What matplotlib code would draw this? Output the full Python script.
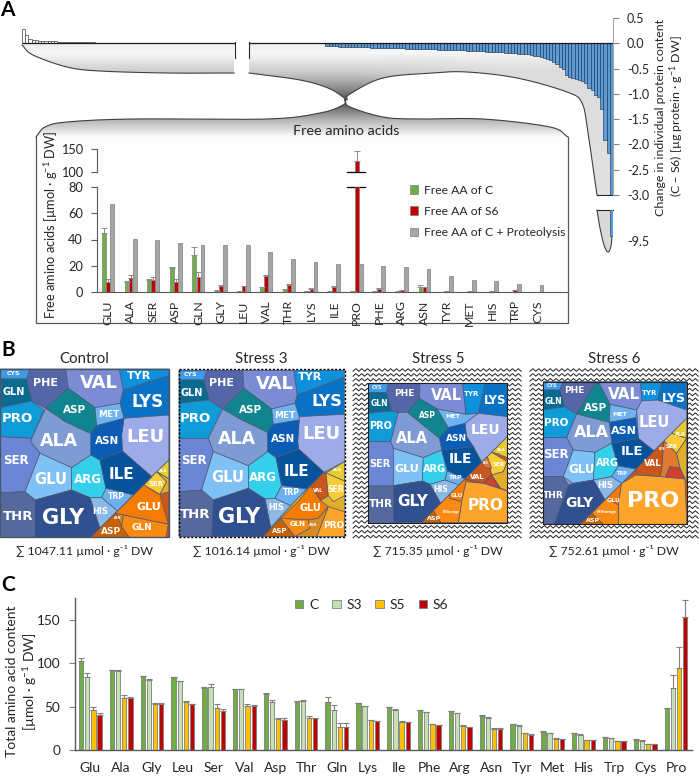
import numpy as np
import matplotlib
matplotlib.use("Agg")
import matplotlib.pyplot as plt
from matplotlib.patches import Polygon, Rectangle

plt.rcParams['font.family'] = ['Lato', 'DejaVu Sans']
plt.rcParams['mathtext.default'] = 'regular'

# panel A, change in protein content
protein_up = [0.28, 0.16, 0.08, 0.07, 0.06, 0.05, 0.05, 0.04, 0.04, 0.04, 0.04, 0.03, 0.03, 0.03, 0.03, 0.03,
	0.02, 0.02, 0.02, 0.02, 0.02, 0.02, 0.02, 0.01, 0.01, 0.01, 0.01, 0.01, 0.01, 0.01]
protein_down = [-.06, -.06, -.06, -.06, -.07, -.07, -.07, -.07, -.07, -.08, -.08, -.08, -.08, -.08, -.09, -.09,
	-.09, -.09, -.09, -.10, -.10, -.10, -.10, -.10, -.10, -.11, -.11, -.11, -.11, -.11, -.12, -.12, -.12, -.12,
	-.12, -.13, -.13, -.13, -.13, -.13, -.14, -.14, -.14, -.14, -.15, -.15, -.15, -.15, -.16, -.16, -.17, -.17,
	-.17, -.18, -.18, -.18, -.19, -.19, -.20, -.20, -.21, -.21, -.22, -.22, -.24, -.25, -.26, -.27, -.29, -.31,
	-.33, -.37, -.41, -.47, -.50, -.62, -.66, -.69, -.71, -.73, -.74, -.78, -.88, -.92, -1.03, -1.06, -1.29,
	-1.91, -2.17, -9.38]
a_ticks_top = [0.5, 0.0, -0.5, -1.0, -1.5, -2.0, -2.5, -3.0]

# panel A inset, free amino acids
free_names = ['GLU', 'ALA', 'SER', 'ASP', 'GLN', 'GLY', 'LEU', 'VAL', 'THR', 'LYS', 'ILE', 'PRO', 'PHE', 'ARG',
	'ASN', 'TYR', 'MET', 'HIS', 'TRP', 'CYS']
free_c = [45, 7.5, 9.5, 18, 28, 1, 0.5, 3.5, 2, 0.5, 0.3, 0.7, 0.3, 0.3, 4, 0.2, 0.2, 0.1, 0.2, 0.1]
free_c_err = [4, 1, 0.7, 1.2, 6, 0.2, 0.1, 0.5, 0.2, 0.1, 0.1, 0.1, 0.1, 0.1, 1.3, 0.1, 0.1, 0.1, 0.1, 0.1]
free_s6 = [8, 10.5, 9, 7.5, 11.5, 4.5, 4.5, 12, 5, 2.5, 4, 124.5, 2.5, 1.5, 3.6, 1, 0.8, 0.3, 1.5, 0.2]
free_s6_err = [2, 2.5, 2.5, 2.5, 4, 0.8, 0.3, 1.2, 0.8, 0.3, 0.3, 21, 0.3, 0.2, 0.3, 0.1, 0.1, 0.1, 0.2, 0.1]
free_prot = [67, 40.5, 39.5, 37, 36, 35.5, 35.5, 30.5, 25.5, 23, 21.5, 21, 19.5, 19, 17.3, 12.2, 9.1, 8.1, 6.1, 5.1]

# panel C, total amino acids
total_names = ['Glu', 'Ala', 'Gly', 'Leu', 'Ser', 'Val', 'Asp', 'Thr', 'Gln', 'Lys', 'Ile', 'Phe', 'Arg', 'Asn',
	'Tyr', 'Met', 'His', 'Trp', 'Cys', 'Pro']
total_c = [102, 92, 85, 84, 71.5, 70.5, 64, 56, 55, 53.8, 49, 45.8, 44.6, 39, 29.6, 21, 19, 14.6, 12, 48]
total_s3 = [84, 91, 81, 79.5, 73, 70.5, 55.5, 56, 46.5, 50.4, 46.5, 43.5, 42.3, 37.3, 28, 19.6, 17.7, 13.8, 10.8, 71]
total_s5 = [46.5, 60, 53.5, 55, 48.5, 51, 35.5, 37, 27, 34, 32.7, 30, 28, 24.6, 19, 13, 11.5, 10, 6.5, 94]
total_s6 = [40.5, 59.5, 53.5, 53, 45, 50.5, 34.5, 37, 27, 33, 32.3, 29, 26.5, 24, 17.7, 12.3, 11, 10, 6.5, 152.7]
total_c_err = [4, 0.5, 0.3, 0.3, 0.5, 0.3, 1.5, 0.5, 6, 0.5, 0.5, 0.5, 0.5, 1, 0.5, 0.5, 0.3, 0.3, 0.3, 0.5]
total_s3_err = [4.5, 1.5, 0.3, 0.3, 2.5, 0.3, 2, 1.5, 5.5, 0.5, 0.5, 0.5, 0.5, 1, 0.5, 0.5, 0.3, 0.5, 0.3, 15]
total_s5_err = [3.5, 3, 0.3, 1, 4, 1.5, 1, 2, 4, 0.5, 0.5, 0.5, 0.5, 1, 0.3, 0.5, 0.3, 0.3, 0.3, 25]
total_s6_err = [2, 2, 0.3, 0.5, 2.5, 1, 2, 0.3, 4, 0.5, 0.5, 0.3, 0.3, 1, 0.3, 0.3, 0.3, 0.3, 0.3, 20]

# panel B, captions
panel_titles = ['Control', 'Stress 3', 'Stress 5', 'Stress 6']
panel_sums = ['1047.11', '1016.14', '715.35', '752.61']

CELL_COLORS = {
	'CYS': '#3d9be9', 'GLN': '#0b6a8f', 'PRO': '#0f9bd7', 'PHE': '#5566a8', 'VAL': '#7b8bd4', 'TYR': '#0e90dc',
	'LYS': '#0a72c5', 'ASP': '#10848f', 'MET': '#6fb2f0', 'LEU': '#9dabe8', 'ASN': '#0b5cb5', 'ALA': '#7f9bd3',
	'SER': '#6c86d6', 'GLU': '#80c1f5', 'ARG': '#35cfeb', 'ILE': '#07539b', 'TRP': '#6cb0f2', 'HIS': '#8cb8e6',
	'GLY': '#30508f', 'THR': '#55699e', 'oGLU': '#f57c00', 'oASP': '#c96000', 'oGLN': '#fb8a12', 'oASN': '#d98a20',
	'oPRO': '#fda52b', 'oALA': '#e8cb2e', 'oSER': '#fbcb35', 'oGOLD': '#e0ae28', 'oVAL': '#c9561d', 'oRED': '#d23f2c',
	'oMISC': '#e07a30',
}

# treemap cells: colour key, label, font size, label position, outline (3x crop coordinates)
control_cells = [
	('oVAL', '', 2, 0, 0, [(507, 375), (507, 607), (272, 607), (300, 580), (352, 528), (400, 480), (455, 425)]),
	('CYS', 'CYS', 4.5, 40, 116, [(0, 102), (90, 102), (80, 132), (0, 132)]),
	('GLN', 'GLN', 7, 41, 172, [(0, 132), (80, 132), (95, 198), (0, 218)]),
	('PRO', 'PRO', 9.5, 53, 250, [(0, 218), (95, 198), (132, 225), (95, 310), (0, 305)]),
	('PHE', 'PHE', 8, 135, 143, [(90, 102), (197, 102), (205, 160), (137, 220), (95, 198), (80, 132)]),
	('VAL', 'VAL', 13, 298, 145, [(197, 102), (358, 102), (370, 165), (360, 205), (285, 218), (205, 160)]),
	('TYR', 'TYR', 8, 416, 124, [(358, 102), (507, 102), (507, 122), (370, 165)]),
	('LYS', 'LYS', 12, 443, 200, [(370, 165), (507, 122), (507, 240), (372, 250), (360, 205)]),
	('ASP', 'ASP', 7.5, 223, 224, [(205, 160), (285, 218), (290, 272), (272, 296), (195, 260), (137, 220)]),
	('MET', 'MET', 6.5, 326, 239, [(285, 218), (360, 205), (372, 250), (290, 272)]),
	('LEU', 'LEU', 13, 436, 306, [(372, 250), (507, 240), (507, 375), (455, 425), (367, 348), (365, 300)]),
	('ASN', 'ASN', 7.5, 321, 317, [(290, 272), (372, 250), (365, 300), (367, 348), (300, 376), (272, 360), (272, 296)]),
	('ALA', 'ALA', 12.5, 178, 317, [(137, 220), (195, 260), (272, 296), (272, 360), (215, 398), (120, 355), (92, 320), (95, 310)]),
	('SER', 'SER', 8.5, 48, 378, [(0, 305), (95, 310), (92, 320), (120, 355), (75, 470), (0, 473)]),
	('GLU', 'GLU', 10.5, 153, 433, [(120, 355), (215, 398), (215, 465), (105, 495), (75, 470)]),
	('ARG', 'ARG', 8.5, 263, 433, [(215, 398), (272, 360), (300, 376), (318, 460), (305, 488), (270, 488), (215, 465)]),
	('ILE', 'ILE', 11, 365, 419, [(300, 376), (367, 348), (455, 425), (400, 480), (318, 460)]),
	('TRP', 'TRP', 5.5, 350, 485, [(318, 460), (400, 480), (352, 528), (305, 488)]),
	('HIS', 'HIS', 6, 302, 531, [(270, 488), (305, 488), (352, 528), (300, 580)]),
	('GLY', 'GLY', 15, 190, 549, [(105, 495), (215, 465), (270, 488), (300, 580), (272, 607), (105, 607)]),
	('THR', 'THR', 9.5, 53, 543, [(0, 473), (75, 470), (105, 495), (105, 607), (0, 607)]),
	('oGLU', 'GLU', 8, 446, 517, [(432, 450), (480, 480), (505, 568), (370, 540), (345, 535)]),
	('oASP', 'ASP', 6.5, 334, 588, [(272, 607), (345, 535), (365, 545), (390, 607)]),
	('oASN', 'ASN', 2.2, 354, 550, [(345, 535), (370, 540), (365, 575), (352, 540)]),
	('oGLN', 'GLN', 6.5, 427, 578, [(370, 540), (505, 568), (497, 607), (388, 607), (365, 575)]),
	('oALA', 'ALA', 2.8, 491, 409, [(507, 375), (507, 432), (470, 410)]),
	('oSER', 'SER', 5, 467, 446, [(432, 450), (470, 410), (500, 440), (480, 478)]),
	('oGOLD', '', 2, 0, 0, [(470, 410), (507, 432), (507, 470), (480, 478), (500, 440)]),
]
stress3_cells = [
	('oGOLD', '', 2, 0, 0, [(1033, 380), (1033, 605), (790, 605), (812, 578), (872, 512), (920, 462), (972, 412)]),
	('CYS', 'CYS', 4.5, 573, 120, [(537, 106), (620, 106), (612, 135), (537, 135)]),
	('GLN', 'GLN', 7, 575, 173, [(537, 135), (612, 135), (628, 195), (537, 205)]),
	('PRO', 'PRO', 9.5, 586, 251, [(537, 205), (628, 195), (668, 222), (625, 310), (537, 310)]),
	('PHE', 'PHE', 8, 665, 145, [(620, 106), (728, 106), (732, 160), (668, 222), (628, 195), (612, 135)]),
	('VAL', 'VAL', 13, 825, 148, [(728, 106), (882, 106), (892, 180), (885, 205), (815, 222), (732, 160)]),
	('TYR', 'TYR', 8, 930, 127, [(882, 106), (1033, 106), (1033, 127), (892, 180)]),
	('LYS', 'LYS', 11.5, 980, 198, [(892, 180), (1033, 127), (1033, 238), (898, 245), (885, 205)]),
	('ASP', 'ASP', 7.5, 752, 224, [(732, 160), (815, 222), (820, 268), (802, 292), (725, 255), (668, 222)]),
	('MET', 'MET', 6.5, 855, 240, [(815, 222), (885, 205), (898, 245), (898, 255), (820, 268)]),
	('LEU', 'LEU', 13, 963, 297, [(898, 245), (1033, 238), (1033, 380), (972, 412), (896, 342), (893, 320)]),
	('ASN', 'ASN', 7.5, 849, 313, [(820, 268), (898, 255), (893, 320), (896, 342), (828, 368), (803, 350), (802, 292)]),
	('ALA', 'ALA', 12.5, 710, 313, [(668, 222), (725, 255), (802, 292), (803, 350), (745, 392), (640, 350), (625, 310)]),
	('SER', 'SER', 8.5, 581, 376, [(537, 310), (625, 310), (640, 350), (605, 465), (537, 470)]),
	('GLU', 'GLU', 10.5, 683, 429, [(640, 350), (745, 392), (745, 460), (640, 495), (605, 465)]),
	('ARG', 'ARG', 8.5, 790, 428, [(745, 392), (803, 350), (828, 368), (845, 452), (825, 490), (795, 492), (745, 460)]),
	('ILE', 'ILE', 11, 888, 408, [(828, 368), (896, 342), (972, 412), (920, 462), (845, 452)]),
	('TRP', 'TRP', 5.5, 874, 472, [(845, 452), (920, 462), (872, 512), (825, 490)]),
	('HIS', 'HIS', 6, 828, 517, [(795, 492), (825, 490), (872, 512), (812, 578)]),
	('GLY', 'GLY', 15, 716, 546, [(640, 495), (745, 460), (795, 492), (812, 578), (790, 605), (635, 605)]),
	('THR', 'THR', 9.5, 586, 538, [(537, 470), (605, 465), (640, 495), (635, 605), (537, 605)]),
	('oVAL', 'VAL', 3.5, 955, 465, [(932, 452), (972, 412), (978, 414), (985, 482), (962, 497)]),
	('oALA', 'ALA', 3, 1013, 405, [(1033, 380), (1033, 438), (978, 414)]),
	('oSER', 'SER', 5.5, 1006, 464, [(978, 414), (1033, 438), (1033, 482), (1000, 500), (985, 482)]),
	('oGLU', 'GLU', 7, 930, 520, [(898, 496), (932, 452), (962, 497), (985, 515), (955, 550), (925, 555), (842, 550)]),
	('oPRO', 'PRO', 6.5, 1000, 570, [(985, 515), (1033, 530), (1033, 605), (950, 605)]),
	('oASP', 'ASP', 5, 838, 587, [(790, 605), (842, 550), (885, 605)]),
	('oGLN', 'GLN', 5, 893, 567, [(842, 550), (925, 555), (930, 580), (885, 605)]),
	('oASN', 'ASN', 2.5, 940, 571, [(925, 555), (955, 550), (985, 515), (950, 605), (885, 605), (930, 580)]),
]
stress5_cells = [
	('oVAL', '', 2, 0, 0, [(472, 305), (472, 563), (215, 563)]),
	('CYS', 'CYS', 3.5, 80, 157, [(55, 145), (115, 145), (110, 172), (55, 172)]),
	('GLN', 'GLN', 5.5, 87, 205, [(55, 172), (110, 172), (125, 228), (55, 235)]),
	('PRO', 'PRO', 7, 92, 272, [(55, 235), (125, 228), (145, 232), (122, 320), (55, 320)]),
	('PHE', 'PHE', 6.5, 162, 176, [(115, 145), (210, 145), (208, 190), (172, 232), (145, 232), (125, 228), (110, 172)]),
	('VAL', 'VAL', 10.5, 289, 180, [(210, 145), (338, 145), (348, 238), (262, 222), (208, 190)]),
	('TYR', 'TYR', 5, 366, 177, [(338, 145), (405, 145), (385, 235), (348, 238)]),
	('LYS', 'LYS', 8.5, 435, 196, [(405, 145), (472, 145), (472, 245), (385, 235)]),
	('ASP', 'ASP', 5.5, 231, 240, [(208, 190), (262, 222), (295, 278), (268, 310), (172, 232)]),
	('MET', 'MET', 4.5, 307, 246, [(262, 222), (348, 238), (385, 235), (345, 265), (295, 278)]),
	('LEU', 'LEU', 10, 407, 284, [(345, 265), (385, 235), (472, 245), (472, 305), (395, 382), (370, 335), (350, 305)]),
	('ASN', 'ASN', 6.5, 319, 310, [(295, 278), (345, 265), (350, 305), (370, 335), (275, 345), (268, 310)]),
	('ALA', 'ALA', 10.5, 186, 310, [(145, 232), (172, 232), (268, 310), (275, 345), (220, 368), (130, 340), (122, 320)]),
	('SER', 'SER', 7, 90, 386, [(55, 320), (122, 320), (130, 340), (130, 452), (55, 452)]),
	('GLU', 'GLU', 8, 171, 402, [(130, 340), (220, 368), (217, 438), (130, 452)]),
	('ARG', 'ARG', 7, 253, 402, [(220, 368), (275, 345), (292, 408), (285, 435), (240, 448), (217, 438)]),
	('ILE', 'ILE', 10, 333, 372, [(275, 345), (370, 335), (395, 382), (345, 432), (292, 408)]),
	('TRP', 'TRP', 4.5, 313, 428, [(292, 408), (345, 432), (327, 450), (285, 435)]),
	('HIS', 'HIS', 5.5, 272, 463, [(240, 448), (285, 435), (327, 450), (272, 505)]),
	('GLY', 'GLY', 11, 187, 501, [(130, 452), (217, 438), (240, 448), (272, 505), (215, 563), (130, 563)]),
	('THR', 'THR', 7.5, 93, 508, [(55, 452), (130, 452), (130, 563), (55, 563)]),
	('oALA', 'ALA', 3, 455, 345, [(472, 305), (472, 368), (440, 355), (425, 352)]),
	('oSER', 'SER', 4, 445, 388, [(412, 365), (425, 352), (472, 380), (460, 410), (425, 420)]),
	('oGOLD', '', 2, 0, 0, [(460, 410), (472, 380), (472, 468), (450, 458), (425, 420)]),
	('oVAL', 'VAL', 5, 381, 427, [(345, 432), (395, 382), (412, 365), (425, 420), (400, 445)]),
	('oMISC', 'LYS', 2.2, 408, 384, [(395, 382), (412, 365), (425, 400), (405, 398)]),
	('oRED', '', 2, 0, 0, [(400, 445), (425, 420), (450, 458)]),
	('oGLU', 'GLU', 4, 320, 481, [(300, 477), (345, 432), (348, 440), (335, 500), (298, 490)]),
	('oPRO', 'PRO', 11, 407, 512, [(348, 440), (400, 445), (472, 468), (472, 563), (325, 563), (335, 500)]),
	('oGLN', 'N-Storage', 2.2, 303, 530, [(272, 505), (300, 477), (298, 490), (335, 500), (325, 563), (272, 563), (250, 527)]),
	('oASP', 'ASP', 4.5, 252, 551, [(215, 563), (250, 527), (272, 563)]),
]
stress6_cells = [
	('oVAL', '', 2, 0, 0, [(1010, 250), (1010, 568), (690, 568)]),
	('CYS', 'CYS', 3.5, 605, 152, [(580, 140), (640, 140), (630, 165), (580, 165)]),
	('GLN', 'GLN', 5.5, 610, 199, [(580, 165), (630, 165), (645, 215), (580, 225)]),
	('PRO', 'PRO', 7.5, 619, 264, [(580, 225), (645, 215), (680, 237), (650, 308), (580, 308)]),
	('PHE', 'PHE', 6.5, 673, 167, [(640, 140), (740, 140), (680, 237), (645, 215), (630, 165)]),
	('VAL', 'VAL', 11, 823, 178, [(745, 140), (872, 140), (875, 198), (860, 225), (780, 208)]),
	('TYR', 'TYR', 5, 900, 175, [(872, 140), (938, 140), (922, 195), (875, 198)]),
	('LYS', 'LYS', 9, 972, 190, [(938, 140), (1010, 140), (1010, 225), (922, 195)]),
	('ASP', 'ASP', 7.5, 736, 220, [(740, 140), (745, 140), (780, 208), (778, 262), (680, 237)]),
	('MET', 'MET', 4.5, 808, 238, [(780, 208), (860, 225), (858, 248), (778, 262)]),
	('LEU', 'LEU', 10.5, 913, 263, [(875, 198), (922, 195), (1010, 225), (1010, 250), (912, 348), (865, 310), (860, 225)]),
	('ASN', 'ASN', 8, 822, 287, [(778, 262), (858, 248), (865, 310), (785, 325)]),
	('ALA', 'ALA', 11.5, 724, 292, [(680, 237), (778, 262), (785, 325), (735, 352), (670, 345), (650, 308)]),
	('SER', 'SER', 8.5, 619, 358, [(580, 308), (650, 308), (670, 345), (640, 425), (580, 425)]),
	('GLU', 'GLU', 8.5, 695, 403, [(670, 345), (735, 352), (730, 435), (670, 445), (640, 425)]),
	('ARG', 'ARG', 7, 773, 383, [(735, 352), (785, 325), (805, 393), (785, 425), (730, 435)]),
	('ILE', 'ILE', 9.5, 845, 349, [(785, 325), (865, 310), (912, 348), (858, 402), (805, 393)]),
	('TRP', 'TRP', 3.5, 816, 415, [(805, 393), (858, 402), (815, 445), (785, 425)]),
	('HIS', 'HIS', 6, 766, 452, [(730, 435), (785, 425), (815, 445), (765, 495)]),
	('GLY', 'GLY', 10, 688, 503, [(670, 445), (730, 435), (765, 495), (690, 568), (612, 568), (655, 450)]),
	('THR', 'THR', 6.5, 610, 481, [(580, 425), (640, 425), (655, 450), (612, 568), (580, 568)]),
	('oALA', 'ALA', 3.5, 990, 298, [(1010, 250), (1010, 310), (965, 295)]),
	('oSER', 'SER', 4, 964, 334, [(942, 318), (965, 295), (1010, 310), (980, 355)]),
	('oGOLD', '', 2, 0, 0, [(980, 355), (1010, 310), (1010, 440), (1005, 432), (990, 400)]),
	('oVAL', 'VAL', 6, 907, 386, [(858, 402), (912, 348), (942, 318), (935, 405), (930, 425), (860, 420)]),
	('oMISC', 'LYS', 2.5, 935, 342, [(935, 405), (942, 318), (980, 355), (990, 400), (960, 395), (945, 430), (930, 425)]),
	('oRED', '', 2, 0, 0, [(945, 430), (960, 395), (990, 400), (1005, 432)]),
	('oGLU', 'GLU', 4.5, 790, 495, [(815, 445), (805, 510), (770, 490)]),
	('oPRO', 'PRO', 16, 910, 497, [(815, 445), (858, 420), (930, 425), (1005, 432), (1010, 568), (805, 568), (805, 510)]),
	('oGLN', 'N-Storage', 2.5, 770, 532, [(770, 490), (805, 510), (805, 568), (760, 568), (725, 535)]),
	('oASP', 'ASP', 4.5, 728, 558, [(690, 568), (725, 535), (760, 568)]),
]


def smooth(points, n=24):
	"""Catmull-Rom curve through outline points"""
	pts = np.array(points, dtype=float)
	pts = np.vstack([2 * pts[0] - pts[1], pts, 2 * pts[-1] - pts[-2]])
	t = np.linspace(0, 1, n, endpoint=False)[:, None]
	out = []
	for p0, p1, p2, p3 in zip(pts[:-3], pts[1:-2], pts[2:-1], pts[3:]):
		out.append(0.5 * (2 * p1 + (p2 - p0) * t + (2 * p0 - 5 * p1 + 4 * p2 - p3) * t ** 2
			+ (3 * p1 - p0 - 3 * p2 + p3) * t ** 3))
	out.append(pts[-2][None, :])
	return np.vstack(out)


def gradient_fill(ax, outline, greys):
	"""Fill an outline with a grey image covering the whole figure"""
	patch = Polygon(outline, closed=True, fc='none', ec='none', transform=ax.transData)
	ax.add_patch(patch)
	img = ax.imshow(greys, extent=(0, 700, 776, 0), cmap='gray', vmin=0, vmax=1,
		aspect='auto', interpolation='bilinear', zorder=1)
	img.set_clip_path(patch)


def px_axes(fig, left, top, right, bottom):
	"""Axes from pixel edges, y counted from the top of the figure"""
	w, h = 700.0, 776.0
	ax = fig.add_axes([left / w, 1 - bottom / h, (right - left) / w, (bottom - top) / h])
	ax.patch.set_alpha(0)
	ax.set_zorder(2)
	return ax


def draw_cells(ax, cells, x0):
	all_pts = np.array([(x0 + x / 3, 335 + y / 3) for cell in cells for x, y in cell[5]])
	low = all_pts.min(axis=0)
	high = all_pts.max(axis=0)
	ax.add_patch(Rectangle(low, *(high - low), fc='#7f9bd3', ec='none', zorder=3.5))
	for key, label, size, lx, ly, verts in cells:
		pts = [(x0 + x / 3, 335 + y / 3) for x, y in verts]
		ax.add_patch(Polygon(pts, closed=True, fc=CELL_COLORS[key], ec='#4a5a78', lw=0.5, zorder=4))
		if label:
			ax.text(x0 + lx / 3, 335 + ly / 3, label, color='white', fontsize=size, fontweight='bold',
				family='DejaVu Sans', ha='center', va='center', zorder=5)


def draw_zigzag(ax, x0, y0, x1, y1):
	for row in np.arange(y0 + 2, y1, 4.9):
		xs = np.arange(x0, x1 + 0.1, 2.9)
		ys = row + 1.3 * (-1.0) ** np.arange(len(xs))
		ax.plot(xs, ys, color='#222222', lw=0.7, zorder=3)


fig = plt.figure(figsize=(7, 7.76), dpi=100)
bg = fig.add_axes([0, 0, 1, 1])
bg.set_xlim(0, 700)
bg.set_ylim(776, 0)
bg.axis('off')
bg.set_zorder(1)

DARK = '#262626'
LINE = '#595959'
SOFT = '#7f7f7f'

# panel letters
bg.text(0, 10, 'A', fontsize=15, fontweight='bold', color='black', va='center')
bg.text(1, 350, 'B', fontsize=15, fontweight='bold', color='black', va='center')
bg.text(1, 585, 'C', fontsize=15, fontweight='bold', color='black', va='center')

# funnel shapes of panel A
left_curve = smooth([(22, 45), (33, 55), (67, 67), (100, 71), (167, 73), (234, 73)])
mid_curve = smooth([(249, 73), (300, 80), (328, 88), (343, 97), (345, 100)])
right_up = smooth([(347, 100), (350, 94), (383, 78), (433, 73), (467, 72), (517, 78), (567, 92), (582, 103),
	(588, 133), (597, 195)])
low_left = smooth([(36, 137), (45, 127), (67, 122), (133, 119), (267, 119), (320, 113), (343, 105), (345, 100)])
low_right = smooth([(345, 100), (350, 107), (383, 117), (417, 119), (483, 119), (550, 127), (568, 137)])
tail = smooth([(597, 210), (600, 228), (604, 245), (608, 252), (611, 246), (612, 235)])

grid_y = np.arange(776.0)
grid_x = np.arange(700.0)
upper_grey = np.interp(grid_y, [44, 52, 73, 88, 100], [0.93, 0.97, 0.78, 0.55, 0.3])
right_grey = np.interp(grid_y, [44, 70, 195], [0.99, 0.86, 0.88])
fade = np.clip((grid_x - 360) / 140, 0, 1)
top_image = upper_grey[:, None] * (1 - fade[None, :]) + right_grey[:, None] * fade[None, :]
lower_grey = np.interp(grid_y, [100, 110, 120, 137], [0.3, 0.5, 0.72, 0.99])
lower_image = lower_grey[:, None] * np.ones((1, 700))

gradient_fill(bg, [(22, 44), (234, 44)] + [tuple(p) for p in left_curve[::-1]], top_image)
gradient_fill(bg, [(249, 44), (613, 44), (613, 195)] + [tuple(p) for p in right_up[::-1]]
	+ [tuple(p) for p in mid_curve[::-1]], top_image)
gradient_fill(bg, [(613, 210)] + [tuple(p) for p in tail], 0.85 * np.ones((2, 2)))
gradient_fill(bg, [tuple(p) for p in low_left] + [tuple(p) for p in low_right] + [(568, 323), (36, 323)], lower_image)
for curve in [left_curve, mid_curve, right_up, low_left, low_right, tail]:
	bg.plot(curve[:, 0], curve[:, 1], color='#404040', lw=0.8, zorder=3)
bg.plot([36, 36, 568, 568], [137, 323, 323, 137], color=LINE, lw=0.9, zorder=3)
bg.plot([234.5, 234.5], [42, 58], color=DARK, lw=0.8, zorder=3)
bg.plot([249, 249], [42, 58], color=DARK, lw=0.8, zorder=3)
bg.plot([597, 613], [195, 195], color=DARK, lw=0.8, zorder=3)
bg.plot([597, 613], [210, 210], color=DARK, lw=0.8, zorder=3)

# panel A bars
n_slots = 185
up_x = np.arange(len(protein_up)) + 0.5
down_x = np.arange(n_slots - len(protein_down), n_slots) + 0.5

ax_a = px_axes(fig, 22, 18, 613, 195)
ax_a.bar(up_x, protein_up, width=1, color='white', edgecolor='#404040', linewidth=0.5)
ax_a.bar(down_x, protein_down, width=1, color='#5a9bd8', edgecolor='#24384f', linewidth=0.45)
ax_a.set_xlim(0, n_slots)
ax_a.set_ylim(-3.0, 0.5)
ax_a.set_yticks(a_ticks_top)
ax_a.set_yticklabels(['%.1f' % v for v in a_ticks_top], color=DARK, fontsize=9)
ax_a.set_xticks([])
ax_a.yaxis.tick_right()
ax_a.tick_params(axis='y', length=4, width=0.8, color=SOFT, pad=6)
for side in ['top', 'left', 'bottom']:
	ax_a.spines[side].set_visible(False)
ax_a.spines['right'].set_color('#a6a6a6')
ax_a.hlines(0, 0, (234.5 - 22) / 591 * n_slots, color='#1a1a1a', lw=0.9)
ax_a.hlines(0, (249 - 22) / 591 * n_slots, n_slots, color='#1a1a1a', lw=0.9)

ax_a2 = px_axes(fig, 22, 210, 613, 241)
ax_a2.bar(down_x, protein_down, width=1, color='#5a9bd8', edgecolor='#24384f', linewidth=0.45)
ax_a2.set_xlim(0, n_slots)
ax_a2.set_ylim(-9.5, -8.75)
ax_a2.set_yticks([-9.5])
ax_a2.set_yticklabels(['-9.5'], color=DARK, fontsize=9)
ax_a2.set_xticks([])
ax_a2.yaxis.tick_right()
ax_a2.tick_params(axis='y', length=0, pad=10)
for side in ax_a2.spines:
	ax_a2.spines[side].set_visible(False)

bg.text(660, 117, 'Change in individual protein content', rotation=90, fontsize=8.9, color=DARK, ha='center', va='center')
bg.text(677, 116, '(C \u2013 S6) [\u00b5g protein \u00b7 g$^{-1}$ DW]', rotation=90, fontsize=8.9, color=DARK, ha='center', va='center')

# inset of panel A
bg.text(346, 131, 'Free amino acids', fontsize=10.4, color=DARK, ha='center', va='center', zorder=5)
bg.text(51, 225, 'Free amino acids [\u00b5mol \u00b7 g$^{-1}$ DW]', rotation=90, fontsize=9.2, color=DARK, ha='center', va='center')

free_x = np.arange(len(free_names))
bar_w = 0.165
bar_off = 0.18
err_style = dict(ecolor='#8c8c8c', elinewidth=0.7, capsize=2, capthick=0.7, lw=0)

ax_low = px_axes(fig, 97, 187, 568, 292)
ax_low.bar(free_x - bar_off, free_c, bar_w, color='#70ad47', edgecolor='#7f7f7f', linewidth=0.5, label='Free AA of C')
ax_low.bar(free_x, free_s6, bar_w, color='#c00000', edgecolor='#7f7f7f', linewidth=0.5, label='Free AA of S6')
ax_low.bar(free_x + bar_off, free_prot, bar_w, color='#a6a6a6', edgecolor='#7f7f7f', linewidth=0.5, label='Free AA of C + Proteolysis')
ax_low.errorbar(free_x - bar_off, free_c, yerr=[np.zeros(20), free_c_err], fmt='none', **err_style)
s6_low = np.array(free_s6) < 80
ax_low.errorbar(free_x[s6_low], np.array(free_s6)[s6_low], yerr=[np.zeros(s6_low.sum()), np.array(free_s6_err)[s6_low]], fmt='none', **err_style)
ax_low.set_xlim(-0.487, 20.35)
ax_low.set_ylim(0, 80)
ax_low.set_yticks([0, 20, 40, 60, 80])
ax_low.set_xticks(free_x)
ax_low.set_xticklabels(free_names, rotation=90, color=DARK, fontsize=8.8)
ax_low.tick_params(axis='x', length=0, pad=6)
ax_low.tick_params(axis='y', length=4, width=0.8, color=LINE, labelcolor=DARK, labelsize=9.2, pad=6)
for side in ['top', 'right']:
	ax_low.spines[side].set_visible(False)
for side in ['left', 'bottom']:
	ax_low.spines[side].set_color(LINE)
ax_low.legend(loc='upper left', bbox_to_anchor=(0.6645, 1.023), frameon=False, fontsize=8.7, labelcolor=DARK,
	handlelength=0.7, handleheight=0.7, handletextpad=0.45, labelspacing=0.85, borderaxespad=0, borderpad=0)

ax_up = px_axes(fig, 97, 149, 568, 172)
ax_up.bar(free_x, free_s6, bar_w, color='#c00000', edgecolor='#7f7f7f', linewidth=0.5)
ax_up.errorbar(free_x[~s6_low], np.array(free_s6)[~s6_low], yerr=[[0], np.array(free_s6_err)[~s6_low]], fmt='none', **err_style)
ax_up.set_xlim(-0.487, 20.35)
ax_up.set_ylim(100, 150)
ax_up.set_yticks([100, 150])
ax_up.set_xticks([])
ax_up.tick_params(axis='y', length=4, width=0.8, color=LINE, labelcolor=DARK, labelsize=9.2, pad=6)
for side in ['top', 'right', 'bottom']:
	ax_up.spines[side].set_visible(False)
ax_up.spines['left'].set_color(LINE)
bg.plot([347, 365], [172, 172], color='black', lw=0.9, zorder=3)
bg.plot([347, 365], [187, 187], color='black', lw=0.9, zorder=3)

# panel B
draw_zigzag(bg, 353, 368, 523, 537)
draw_zigzag(bg, 530, 368, 700, 537)
draw_cells(bg, control_cells, 0)
draw_cells(bg, stress3_cells, 0)
draw_cells(bg, stress5_cells, 350)
draw_cells(bg, stress6_cells, 350)
bg.add_patch(Rectangle((0, 369), 169, 168, fc='none', ec='#4a5568', lw=1, zorder=6))
bg.add_patch(Rectangle((178.5, 369), 166.5, 168, fc='none', ec='black', lw=1, ls=(0, (1.6, 1.2)), zorder=6))
bg.add_patch(Rectangle((368, 383), 139, 140, fc='none', ec='#222222', lw=0.8, zorder=6))
bg.add_patch(Rectangle((543, 382), 144, 142, fc='none', ec='#222222', lw=0.8, zorder=6))
for cx, title, total in zip([84, 261, 438, 614], panel_titles, panel_sums):
	bg.text(cx, 359, title, fontsize=10.8, color=DARK, ha='center', va='center')
	bg.text(cx, 551, '\u2211 %s \u00b5mol \u00b7 g\u207b\u00b9 DW' % total, fontsize=8.8, color=DARK, ha='center', va='center')

# panel C
total_x = np.arange(len(total_names))
ax_c = px_axes(fig, 75, 598, 692, 750)
series = [
	(total_c, total_c_err, '#70ad47', 'C'),
	(total_s3, total_s3_err, '#c5e0b4', 'S3'),
	(total_s5, total_s5_err, '#ffc000', 'S5'),
	(total_s6, total_s6_err, '#c00000', 'S6'),
]
for i, (vals, errs, color, name) in enumerate(series):
	xs = total_x + (i - 1.5) * 0.2
	ax_c.bar(xs, vals, 0.14, color=color, edgecolor='#7f7f7f', linewidth=0.6, label=name)
	ax_c.errorbar(xs, vals, yerr=[np.zeros(len(vals)), errs], fmt='none', ecolor='#7f7f7f', elinewidth=0.8,
		capsize=2.2, capthick=0.8)
ax_c.set_xlim(-0.496, 19.52)
ax_c.set_ylim(0, 175)
ax_c.set_yticks([0, 50, 100, 150])
ax_c.set_xticks(total_x)
ax_c.set_xticklabels(total_names, color=DARK, fontsize=10)
ax_c.tick_params(axis='x', length=0, pad=9)
ax_c.tick_params(axis='y', length=4, width=0.8, color=SOFT, labelcolor=DARK, labelsize=9.8, pad=6.5)
for side in ['top', 'right']:
	ax_c.spines[side].set_visible(False)
for side in ['left', 'bottom']:
	ax_c.spines[side].set_color(LINE)
	ax_c.spines[side].set_linewidth(1.0)
ax_c.legend(loc='upper center', bbox_to_anchor=(0.481, 0.994), ncol=4, frameon=False, fontsize=10, labelcolor=DARK,
	handlelength=0.6, handleheight=0.6, handletextpad=0.4, columnspacing=1.0, borderaxespad=0, borderpad=0)
bg.text(12, 681, 'Total amino acid content', rotation=90, fontsize=10, color=DARK, ha='center', va='center')
bg.text(30, 682, '[\u00b5mol \u00b7 g$^{-1}$ DW]', rotation=90, fontsize=10, color=DARK, ha='center', va='center')

fig.savefig('out.png', dpi=100)
